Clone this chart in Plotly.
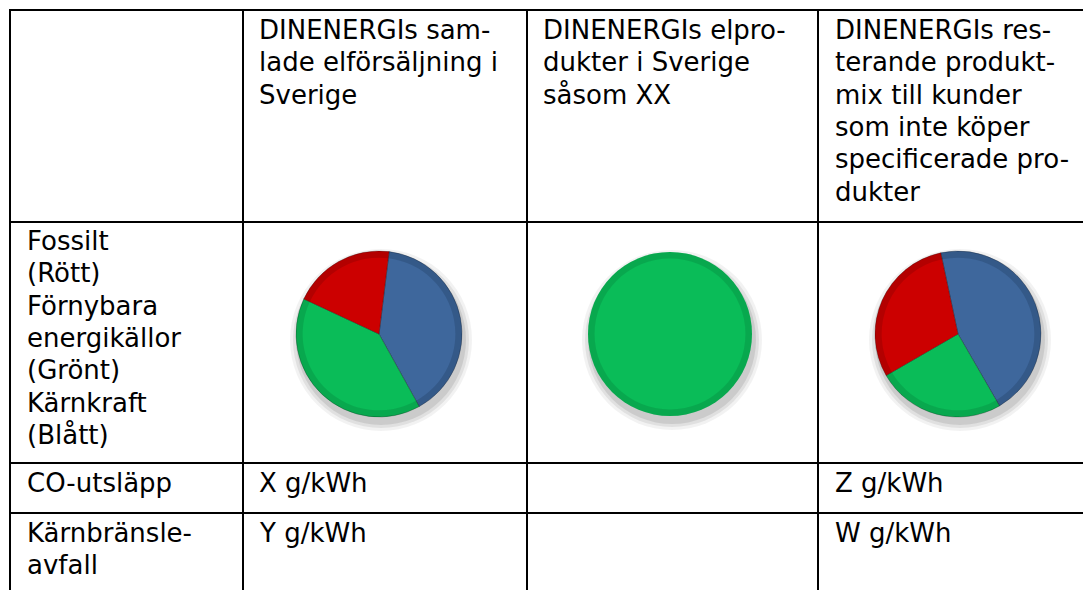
import plotly.graph_objects as go

# ---------------- data ----------------
header_col2 = ["DINENERGIs sam-", "lade elförsäljning i", "Sverige"]
header_col3 = ["DINENERGIs elpro-", "dukter i Sverige", "såsom XX"]
header_col4 = ["DINENERGIs res-", "terande produkt-", "mix till kunder",
               "som inte köper", "specificerade pro-", "dukter"]
row2_label = ["Fossilt", "(Rött)", "Förnybara", "energikällor",
              "(Grönt)", "Kärnkraft", "(Blått)"]
row3_cells = ["CO-utsläpp", "X g/kWh", "", "Z g/kWh"]
row4_label = ["Kärnbränsle-", "avfall"]
row4_cells = ["Y g/kWh", "", "W g/kWh"]

pie_labels = ["Kärnkraft", "Förnybara", "Fossilt"]
pie1_values = [40, 40, 20]
pie2_values = [0, 100, 0]
pie3_values = [45, 25, 30]
pie1_rotation = 7
pie2_rotation = 0
pie3_rotation = -12

# ---------------- layout constants ----------------
W, H = 1085, 590
col_x = [10, 243, 527, 818]
right_x = 1083
row_y = [10, 222, 463, 513]
pad = 15
pitch = 32.3
FONT = "DejaVu Sans"
FS = 26

colors = ["#3E679C", "#0ABC58", "#CC0000"]
rim_colors = ["rgba(20,40,70,0.22)", "rgba(0,70,30,0.16)", "rgba(90,0,0,0.22)"]

fig = go.Figure()

shapes = []
# table lines
for y in row_y:
    shapes.append(dict(type="line", xref="x", yref="y", x0=col_x[0] - 1, x1=right_x,
                       y0=y, y1=y, line=dict(color="black", width=2)))
for x in col_x:
    shapes.append(dict(type="line", xref="x", yref="y", x0=x, x1=x,
                       y0=row_y[0] - 1, y1=H, line=dict(color="black", width=2)))

annotations = []


def add_lines(lines, x, y_first):
    for i, t in enumerate(lines):
        if t == "":
            continue
        annotations.append(dict(x=x, y=y_first + i * pitch, xref="x", yref="y",
                                text=t, showarrow=False, xanchor="left",
                                yanchor="middle",
                                font=dict(family=FONT, size=FS, color="black")))


add_lines(header_col2, col_x[1] + pad - 1, 30)
add_lines(header_col3, col_x[2] + pad - 1, 30)
add_lines(header_col4, col_x[3] + pad, 30)
add_lines(row2_label, col_x[0] + pad, 241)
for ci, t in enumerate(row3_cells):
    add_lines([t], col_x[ci] + pad - (1 if ci in (1, 2) else 0), 483)
add_lines(row4_label, col_x[0] + pad, 533)
for ci, t in enumerate(row4_cells):
    add_lines([t], col_x[ci + 1] + pad - (1 if ci in (0, 1) else 0), 533)

# pies
pies = [(379, 334, 83, pie1_values, pie1_rotation, 1),
        (670, 334, 82, pie2_values, pie2_rotation, 0),
        (958, 334, 83, pie3_values, pie3_rotation, 1)]

for cx, cy, r, vals, rot, lw in pies:
    # soft drop shadow
    for grow, op in [(8, 0.05), (5, 0.07), (2, 0.09)]:
        shapes.append(dict(type="circle", xref="x", yref="y", layer="below",
                           x0=cx - r - grow + 2, x1=cx + r + grow + 2,
                           y0=cy - r - grow + 6, y1=cy + r + grow + 6,
                           fillcolor=f"rgba(0,0,0,{op})", line=dict(width=0)))
    dom = dict(x=[(cx - r) / W, (cx + r) / W],
               y=[1 - (cy + r) / H, 1 - (cy - r) / H])
    fig.add_trace(go.Pie(labels=pie_labels, values=vals, sort=False,
                         direction="clockwise", rotation=rot, domain=dom,
                         marker=dict(colors=colors,
                                     line=dict(color="rgba(0,0,0,0.25)", width=lw)),
                         textinfo="none", hoverinfo="label+percent",
                         showlegend=False))
    # subtle bevel rim
    fig.add_trace(go.Pie(labels=pie_labels, values=vals, sort=False,
                         direction="clockwise", rotation=rot, domain=dom,
                         hole=0.92,
                         marker=dict(colors=rim_colors, line=dict(width=0)),
                         textinfo="none", hoverinfo="skip", showlegend=False))

fig.update_layout(
    width=W, height=H,
    margin=dict(l=0, r=0, t=0, b=0),
    paper_bgcolor="white", plot_bgcolor="white",
    xaxis=dict(range=[0, W], visible=False, fixedrange=True),
    yaxis=dict(range=[H, 0], visible=False, fixedrange=True),
    shapes=shapes, annotations=annotations,
    showlegend=False,
)

fig.write_html("out.html", config={"displayModeBar": False},
               post_script="document.body.style.margin='0px';")
